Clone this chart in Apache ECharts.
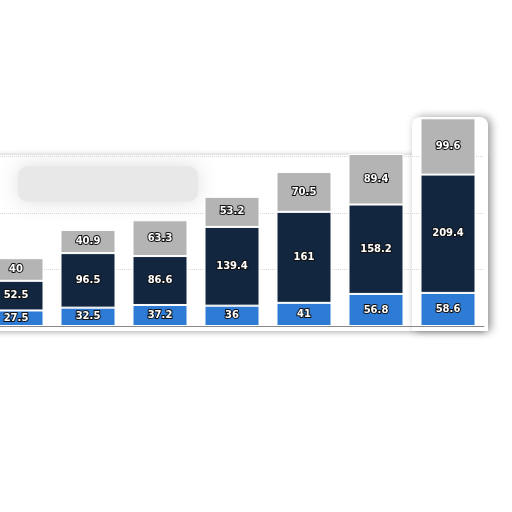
<!DOCTYPE html>
<html>
<head>
<meta charset="utf-8">
<script src="https://cdn.jsdelivr.net/npm/echarts@6/dist/echarts.min.js"></script>
<style>html,body{margin:0;padding:0;background:#fff;overflow:hidden;width:512px;height:512px}#c{position:absolute;left:-20px;top:0;width:532px;height:512px}</style>
</head>
<body>
<div id="c"></div>
<script>
var categories = ["1", "2", "3", "4", "5", "6", "7"];
var bottomValues = [27.5, 32.5, 37.2, 36, 41, 56.8, 58.6];
var middleValues = [52.5, 96.5, 86.6, 139.4, 161, 158.2, 209.4];
var topValues = [40, 40.9, 63.3, 53.2, 70.5, 89.4, 99.6];
var yTicks = [0, 100, 200, 300, 400];

var chart = echarts.init(document.getElementById('c'), null, {renderer: 'canvas'});
var labelStyle = {
  show: true, position: 'inside', color: '#fff',
  fontFamily: 'DejaVu Sans', fontWeight: 'bold', fontSize: 10,
  textBorderColor: '#111', textBorderWidth: 2
};
function mk(name, data, color) {
  return {
    name: name, type: 'bar', stack: 'total', data: data, barWidth: 55,
    itemStyle: {color: color, borderColor: '#fff', borderWidth: 1},
    label: labelStyle
  };
}
var dx = 20;
chart.setOption({
  backgroundColor: '#fff',
  animation: false,
  graphic: [
    {type: 'rect', z: -10, shape: {x: dx - 20, y: 155, width: 505, height: 176},
     style: {fill: '#fff', shadowBlur: 6, shadowColor: 'rgba(0,0,0,0.35)', shadowOffsetY: 1}},
    {type: 'rect', z: -9, shape: {x: dx + 412, y: 117, width: 76, height: 214, r: [8, 8, 0, 0]},
     style: {fill: '#fff', shadowBlur: 8, shadowColor: 'rgba(0,0,0,0.4)', shadowOffsetX: 3}},
    {type: 'rect', z: -8, shape: {x: dx + 18, y: 166, width: 180, height: 36, r: 10},
     style: {fill: '#e8e8e8', shadowBlur: 22, shadowColor: '#dedede'}}
  ],
  grid: {left: 0, right: 28, top: 100, bottom: 186},
  xAxis: {
    type: 'category', data: categories,
    axisLine: {lineStyle: {color: '#888', width: 1}},
    axisTick: {show: false}, axisLabel: {show: false}
  },
  yAxis: {
    type: 'value', min: yTicks[0], max: yTicks[yTicks.length - 1], interval: 100,
    axisLabel: {show: false}, axisLine: {show: false}, axisTick: {show: false},
    splitLine: {show: true, showMaxLine: false, lineStyle: {color: '#d6d6d6', type: 'dotted'}}
  },
  series: [
    mk('Bottom', bottomValues, '#2e7bd6'),
    mk('Middle', middleValues, '#13263f'),
    mk('Top', topValues, '#b4b4b4')
  ]
});
</script>
</body>
</html>
